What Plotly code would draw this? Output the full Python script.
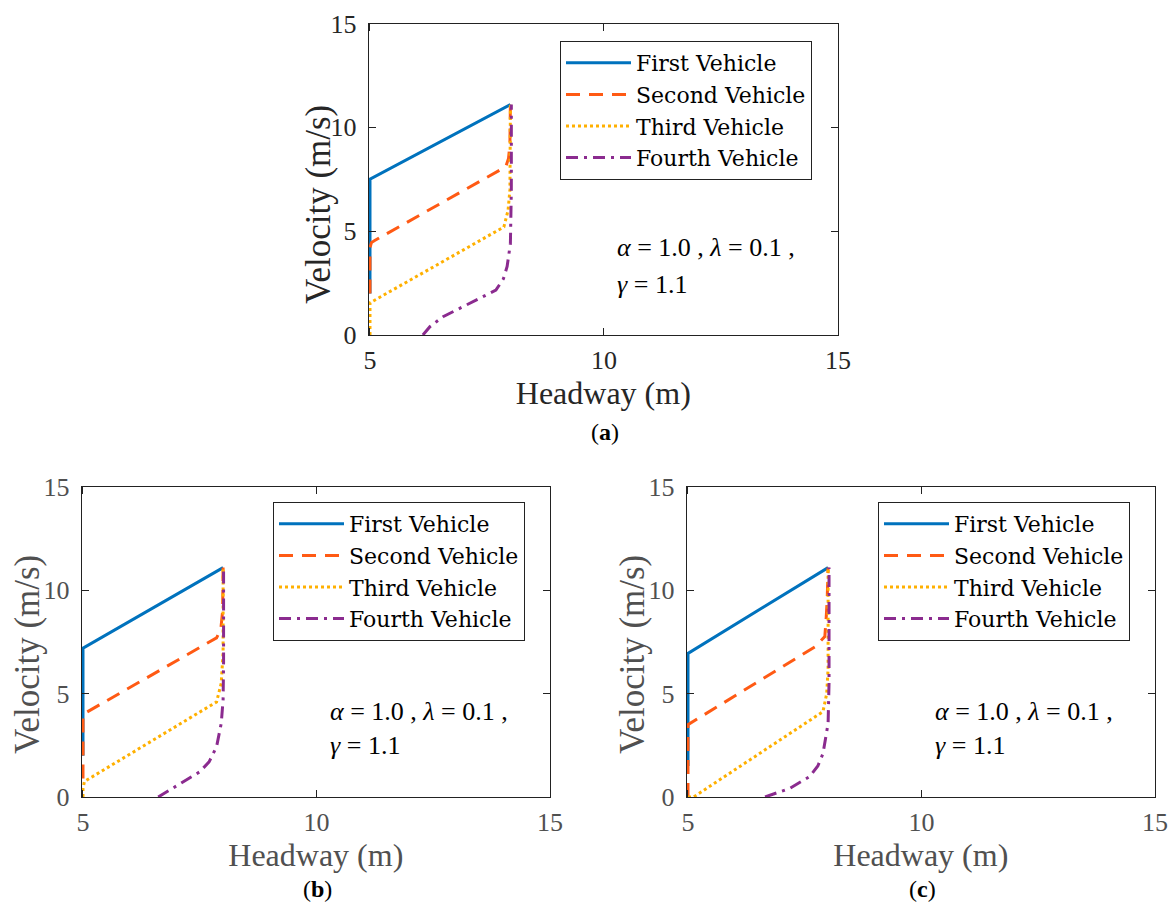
import plotly.graph_objects as go

# ---------------- data ----------------
names = ["First Vehicle", "Second Vehicle", "Third Vehicle", "Fourth Vehicle"]
colors = ["#0072BD", "#FF5A14", "#FFB000", "#8B2B8F"]
dashes = ["solid", "14px,9px", "3px,3px", "12px,6px,3px,6px"]

# panel (a)
a1_x = [5.0, 5.0, 8.0]
a1_v = [2.0, 7.5, 11.1]
a2_x = [5.0, 5.0, 5.03, 5.1, 7.9, 7.96, 7.99, 8.0]
a2_v = [2.0, 4.2, 4.45, 4.55, 8.1, 8.5, 9.2, 11.1]
a3_x = [5.0, 5.0, 7.86, 7.95, 7.99, 8.0]
a3_v = [0.0, 1.55, 5.2, 6.0, 7.0, 11.1]
a4_x = [6.13, 6.28, 6.56, 7.69, 7.85, 7.93, 8.0, 8.01, 8.02, 8.02]
a4_v = [0.0, 0.4, 0.88, 2.16, 2.7, 3.3, 4.4, 5.5, 7.0, 11.1]

# panel (b)
b1_x = [5.0, 5.0, 8.0]
b1_v = [2.0, 7.2, 11.1]
b2_x = [5.0, 5.0, 7.86, 7.95, 7.99, 8.0]
b2_v = [0.9, 4.0, 7.7, 8.1, 9.0, 11.1]
b3_x = [5.0, 5.0, 5.03, 7.86, 7.96, 8.0, 8.0]
b3_v = [0.0, 0.4, 0.75, 4.6, 5.5, 7.0, 11.1]
b4_x = [6.61, 7.5, 7.7, 7.86, 7.96, 8.0, 8.01, 8.01]
b4_v = [0.0, 1.22, 1.7, 2.43, 3.56, 4.7, 6.5, 11.1]

# panel (c)
c1_x = [5.0, 5.0, 8.0]
c1_v = [1.5, 6.95, 11.1]
c2_x = [5.0, 5.0, 7.72, 7.93, 7.96, 7.98, 8.0]
c2_v = [0.0, 3.5, 7.27, 7.76, 8.7, 9.5, 11.1]
c3_x = [5.0, 5.12, 7.89, 7.97, 8.0, 8.0]
c3_v = [0.0, 0.0, 4.13, 5.0, 6.2, 11.1]
c4_x = [6.65, 7.18, 7.6, 7.78, 7.89, 8.0, 8.02, 8.02]
c4_v = [0.0, 0.42, 0.98, 1.5, 2.1, 3.56, 5.5, 11.1]

x_ticks = [5, 10, 15]
y_ticks = [0, 5, 10, 15]
x_title = "Headway (m)"
y_title = "Velocity (m/s)"
panel_labels = ["(<b>a</b>)", "(<b>b</b>)", "(<b>c</b>)"]
param_line1 = "<i>α</i> = 1.0 , <i>λ</i> = 0.1 ,"
param_line2 = "<i>γ</i> = 1.1"

panels = [
    ([a1_x, a2_x, a3_x, a4_x], [a1_v, a2_v, a3_v, a4_v]),
    ([b1_x, b2_x, b3_x, b4_x], [b1_v, b2_v, b3_v, b4_v]),
    ([c1_x, c2_x, c3_x, c4_x], [c1_v, c2_v, c3_v, c4_v]),
]

W, H = 1175, 903
FONT = "Liberation Serif, Times New Roman, serif"
LFONT = "DejaVu Serif, serif"

# pixel layout (x=5 position, x=15 position, y=0 position, y=15 position)
boxes = [
    (370, 838, 335, 23.5),
    (83, 550, 797, 487),
    (688, 1155, 797, 487),
]
text_colors = ["#262626", "#505050", "#505050"]
legend_pos = [(560, 41), (273, 502), (878, 502)]
param_pos = [(615, 248, 284), (328, 711, 745), (933, 711, 745)]
label_pos = [(605, 432), (317, 889), (922, 889)]
ytitle_pos = [(318, 205), (27, 655), (632, 655)]

fig = go.Figure()
legend_keys = ["legend", "legend2", "legend3"]

for p, (xs, vs) in enumerate(panels):
    sfx = "" if p == 0 else str(p + 1)
    for i in range(4):
        fig.add_trace(go.Scatter(
            x=xs[i], y=vs[i], mode="lines", name=names[i],
            line=dict(color=colors[i], width=3, dash=dashes[i]),
            xaxis="x" + sfx, yaxis="y" + sfx,
            legend=legend_keys[p],
        ))

layout = dict(
    width=W, height=H, margin=dict(l=0, r=0, t=0, b=0, pad=0, autoexpand=False),
    paper_bgcolor="white", plot_bgcolor="white",
    font=dict(family=FONT, size=26, color="#262626"),
    showlegend=True, annotations=[],
)

for p in range(3):
    sfx = "" if p == 0 else str(p + 1)
    l, r, b, t = boxes[p]
    ppu = (r - l) / 10.0
    left = l - 0.03 * ppu
    tc = text_colors[p]
    layout["xaxis" + sfx] = dict(
        domain=[left / W, r / W], range=[4.97, 15], anchor="y" + sfx,
        automargin=False,
        tickvals=x_ticks, ticks="inside", ticklen=7, tickcolor="#222",
        showline=True, linecolor="#222", linewidth=1, mirror="ticks",
        showgrid=False, zeroline=False,
        tickfont=dict(family=FONT, size=26, color=tc), ticklabelstandoff=2,
        title=dict(text=x_title, font=dict(family=FONT, size=32, color=tc), standoff=2),
    )
    layout["yaxis" + sfx] = dict(
        domain=[1 - b / H, 1 - t / H], range=[0, 15], anchor="x" + sfx,
        automargin=False,
        tickvals=y_ticks, ticks="inside", ticklen=7, tickcolor="#222",
        showline=True, linecolor="#222", linewidth=1, mirror="ticks",
        showgrid=False, zeroline=False,
        tickfont=dict(family=FONT, size=26, color=tc), ticklabelstandoff=6,
    )
    yx, yy = ytitle_pos[p]
    layout["annotations"].append(dict(
        x=yx / W, y=1 - yy / H, xref="paper", yref="paper", text=y_title,
        textangle=-90, showarrow=False, xanchor="center", yanchor="middle",
        font=dict(family=FONT, size=35, color=tc)))
    lx, ly = legend_pos[p]
    layout[legend_keys[p]] = dict(
        x=lx / W, y=1 - ly / H, xanchor="left", yanchor="top",
        xref="paper", yref="paper",
        bgcolor="white", bordercolor="#222", borderwidth=1,
        font=dict(family=LFONT, size=22, color="black"),
        itemwidth=65,
    )
    px_, y1, y2 = param_pos[p]
    layout["annotations"].append(dict(
        x=px_ / W, y=1 - y1 / H, xref="paper", yref="paper", text=param_line1,
        showarrow=False, xanchor="left", yanchor="middle",
        font=dict(family=FONT, size=26, color="black")))
    layout["annotations"].append(dict(
        x=px_ / W, y=1 - y2 / H, xref="paper", yref="paper", text=param_line2,
        showarrow=False, xanchor="left", yanchor="middle",
        font=dict(family=FONT, size=26, color="black")))
    cx, cy = label_pos[p]
    layout["annotations"].append(dict(
        x=cx / W, y=1 - cy / H, xref="paper", yref="paper", text=panel_labels[p],
        showarrow=False, xanchor="center", yanchor="middle",
        font=dict(family=FONT, size=24, color="black")))

fig.update_layout(**layout)
fig.write_html("out.html")
